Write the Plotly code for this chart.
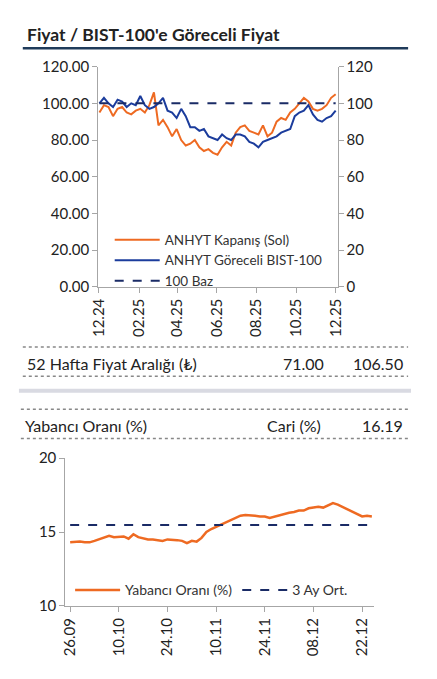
import plotly.graph_objects as go
import pandas as pd

# ---- top chart data (weekly readings) ----
week_dates = pd.date_range("2024-12-02", periods=53, freq="7D")
anhyt_close = [95, 99, 98, 93, 97, 98, 95, 94, 96, 97, 95, 99, 106, 88, 91, 87, 82, 86, 80, 77,
               78, 80, 76, 74, 75, 73, 72, 76, 79, 77, 84, 87, 88, 85, 84, 83, 88, 82, 84, 90,
               92, 91, 95, 97, 100, 103, 101, 97, 96, 97, 99, 103, 105]
anhyt_rel = [100, 103, 100, 98, 102, 101, 98, 100, 99, 104, 99, 97, 98, 100, 103, 96, 95, 92, 97, 93,
             87, 87, 85, 86, 82, 81, 80, 83, 81, 80, 83, 83, 82, 79, 78, 76, 79, 80, 81, 82,
             84, 85, 86, 93, 95, 96, 99, 94, 91, 90, 92, 93, 96]
base_100 = 100
top_tick_dates = ["2024-12-01", "2025-02-01", "2025-04-01", "2025-06-01", "2025-08-01", "2025-10-01", "2025-12-01"]
top_tick_text = ["12.24", "02.25", "04.25", "06.25", "08.25", "10.25", "12.25"]

# ---- bottom chart data ----
foreign_dates = [d.strftime("%d.%m") for d in pd.bdate_range("2025-09-26", periods=63)]
foreign_ratio = [14.3, 14.35, 14.35, 14.3, 14.3, 14.4, 14.5, 14.6, 14.75, 14.65, 14.7, 14.7, 14.55, 14.85,
                 14.65, 14.55, 14.5, 14.5, 14.45, 14.4, 14.5, 14.5, 14.45, 14.4, 14.25, 14.4, 14.35, 14.6,
                 15.0, 15.2, 15.35, 15.55, 15.65, 15.8, 15.95, 16.1, 16.15, 16.15, 16.1, 16.05, 16.05, 15.95,
                 16.05, 16.15, 16.25, 16.3, 16.35, 16.45, 16.45, 16.6, 16.65, 16.7, 16.65, 16.8, 16.95, 16.85,
                 16.7, 16.55, 16.4, 16.2, 16.05, 16.1, 16.05]
bottom_tick_text = ["26.09", "10.10", "24.10", "10.11", "24.11", "08.12", "22.12"]
avg_3m = 15.47
range_low, range_high = "71.00", "106.50"
current_ratio = "16.19"

W, H = 437, 679
FONT = "Lato"
ORANGE = "#EE6A22"
BLUE = "#1B3C9C"
NAVY = "#1A2B66"

def px(x): return x / W
def py(y): return 1 - y / H

fig = go.Figure()
fig.add_trace(go.Scatter(x=week_dates, y=anhyt_close, mode="lines", line=dict(color=ORANGE, width=2),
                         name="ANHYT Kapanış (Sol)", xaxis="x", yaxis="y"))
fig.add_trace(go.Scatter(x=week_dates, y=anhyt_rel, mode="lines", line=dict(color=BLUE, width=2),
                         name="ANHYT Göreceli BIST-100", xaxis="x", yaxis="y2"))
fig.add_trace(go.Scatter(x=[week_dates[0], week_dates[-1]], y=[base_100, base_100], mode="lines",
                         line=dict(color=NAVY, width=2, dash="dash"), name="100 Baz", xaxis="x", yaxis="y2"))

fig.add_trace(go.Scatter(x=foreign_dates, y=foreign_ratio, mode="lines", line=dict(color=ORANGE, width=2.5),
                         name="Yabancı Oranı (%)", xaxis="x3", yaxis="y3", legend="legend2"))
fig.add_trace(go.Scatter(x=foreign_dates, y=[avg_3m] * len(foreign_dates), mode="lines",
                         line=dict(color=NAVY, width=2, dash="dash"), name="3 Ay Ort.", xaxis="x3", yaxis="y3",
                         legend="legend2"))

axis_common = dict(showgrid=False, zeroline=False, showline=True, linecolor="#A6A6A6", linewidth=1,
                   ticks="outside", tickcolor="#A6A6A6", ticklen=5, tickfont=dict(size=15, color="#222"))

fig.update_layout(
    width=W, height=H, margin=dict(l=0, r=0, t=0, b=0),
    paper_bgcolor="white", plot_bgcolor="white",
    font=dict(family=FONT, color="#222"),
    xaxis=dict(domain=[px(84), px(332)], anchor="y", range=["2024-11-30", "2025-12-04"],
               tickvals=top_tick_dates, ticktext=top_tick_text, tickangle=-90, **axis_common),
    yaxis=dict(domain=[py(276), py(50)], range=[0, 120], dtick=20, tickformat=".2f", **axis_common),
    yaxis2=dict(overlaying="y", side="right", anchor="x", range=[0, 120], dtick=20, **axis_common),
    xaxis3=dict(domain=[px(50), px(370)], anchor="y3", type="category", range=[-1, 62.5],
                tickvals=foreign_dates[::10], ticktext=bottom_tick_text, tickangle=-90, **axis_common),
    yaxis3=dict(domain=[py(604), py(452)], anchor="x3", range=[10, 20], dtick=5, **axis_common),
    legend=dict(x=px(96), y=py(212), xanchor="left", yanchor="top", bgcolor="rgba(0,0,0,0)",
                font=dict(size=13.5, color="#333"), tracegroupgap=0, itemwidth=45),
    legend2=dict(x=px(55), y=py(588), xanchor="left", yanchor="middle", orientation="h",
                 bgcolor="rgba(0,0,0,0)", font=dict(size=14, color="#333"), itemwidth=45),
)

def line(y, x0, x1, color, width, dash="solid"):
    fig.add_shape(type="line", xref="paper", yref="paper", x0=px(x0), x1=px(x1), y0=py(y), y1=py(y),
                  line=dict(color=color, width=width, dash=dash))

line(31, 6, 405, "#1F3B5A", 2.5)
line(338, 6, 405, "#888", 1.5, "dot")
line(368, 6, 405, "#888", 1.5, "dot")
line(383, 2, 408, "#D9DAE2", 4)
line(402, 4, 405, "#888", 1.5, "dot")
line(432, 4, 405, "#888", 1.5, "dot")

def text(t, x, y, anchor="left", size=16, bold=False):
    fig.add_annotation(text=f"<b>{t}</b>" if bold else t, xref="paper", yref="paper", x=px(x), y=py(y),
                       xanchor=anchor, yanchor="middle", showarrow=False, font=dict(size=size, color="#222"))

text("Fiyat / BIST-100'e Göreceli Fiyat", 8, 17, size=17.5, bold=True)
text("52 Hafta Fiyat Aralığı (₺)", 8, 355)
text(range_low, 320, 355, anchor="right")
text(range_high, 402, 355, anchor="right")
text("Yabancı Oranı (%)", 6, 419)
text("Cari (%)", 317, 419, anchor="right")
text(current_ratio, 402, 419, anchor="right")

fig.write_html("out.html")
